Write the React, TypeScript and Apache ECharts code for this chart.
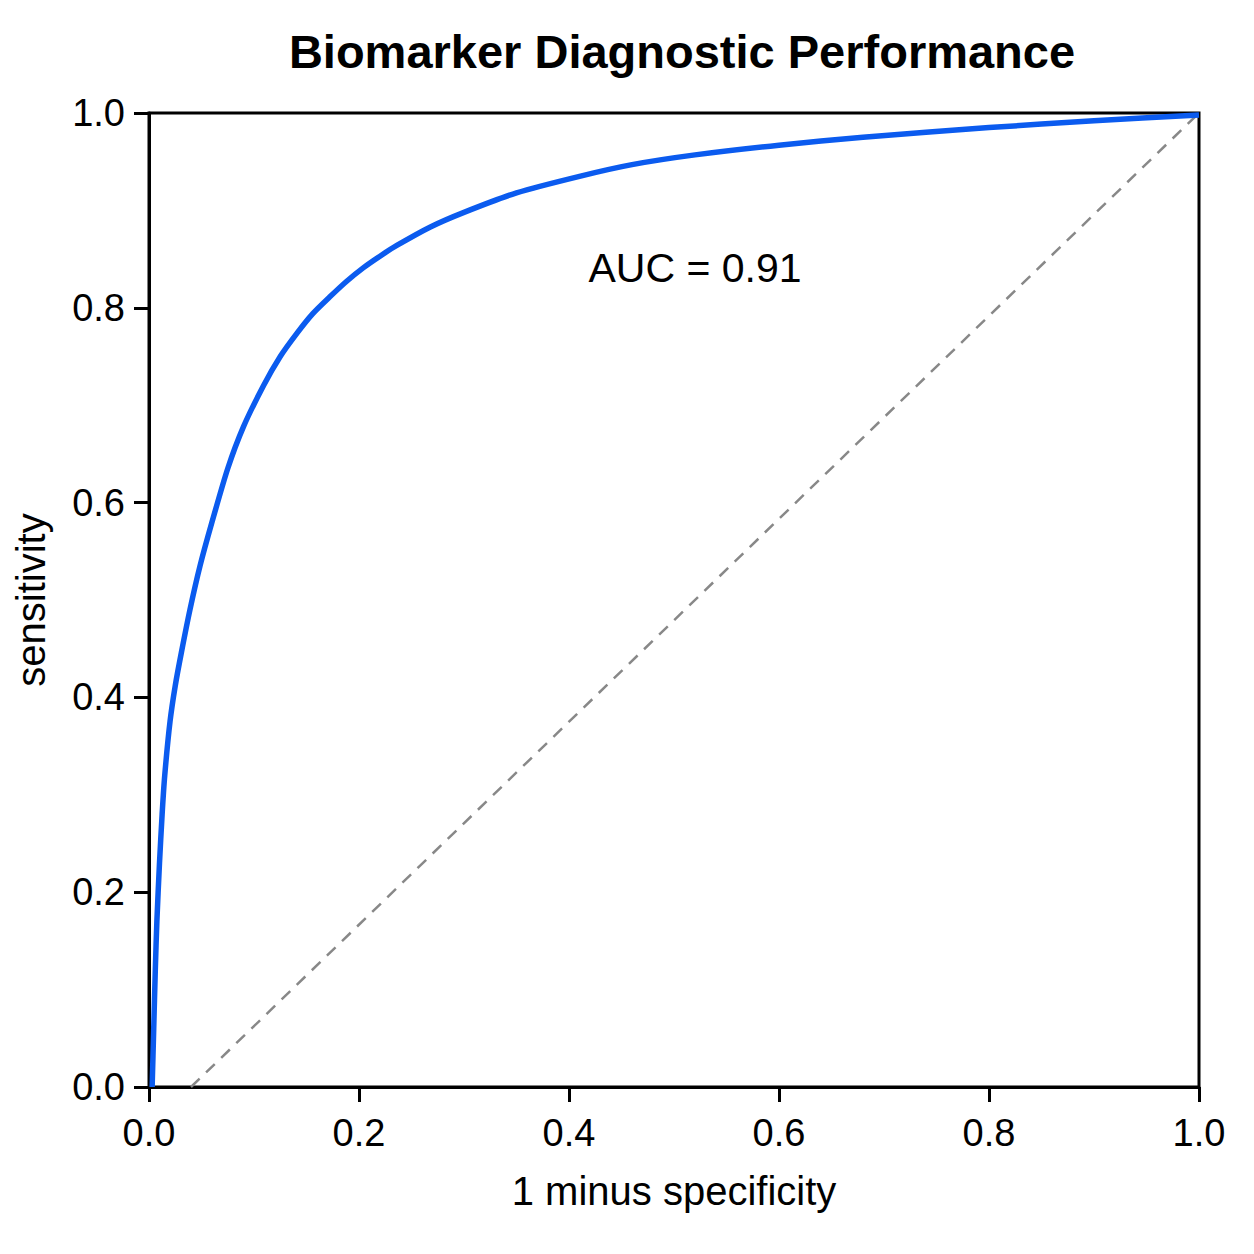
import { useEffect, useRef } from 'react'
import * as echarts from 'echarts'

// ROC curve (1 - specificity, sensitivity)
const fprValues = [
  0.003, 0.0045, 0.006, 0.0075, 0.01, 0.0125, 0.015, 0.02, 0.025, 0.031, 0.039, 0.0486,
  0.06, 0.075, 0.09, 0.109, 0.125, 0.141, 0.156, 0.172, 0.188, 0.204, 0.22, 0.236,
  0.268, 0.3, 0.35, 0.41, 0.46, 0.52, 0.6, 0.68, 0.8, 0.9, 1.0
]
const tprValues = [
  0, 0.06, 0.12, 0.17, 0.23, 0.28, 0.32, 0.375, 0.412, 0.447, 0.49, 0.535,
  0.58, 0.635, 0.678, 0.72, 0.75, 0.774, 0.794, 0.811, 0.827, 0.841, 0.853, 0.864,
  0.883, 0.898, 0.918, 0.935, 0.947, 0.957, 0.967, 0.975, 0.985, 0.992, 0.998
]
// reference (chance) line, dashed
const chanceX = [0.04, 1.0]
const chanceY = [0, 1.0]
const aucLabel = 'AUC = 0.91'
const aucAt = [0.52, 0.841]

const FONT = '"Liberation Sans", Arial, Helvetica, sans-serif'

export default function App() {
  const chartRef = useRef<HTMLDivElement>(null)

  useEffect(() => {
    if (!chartRef.current) return
    const chart = echarts.init(chartRef.current, undefined, { renderer: 'svg' })

    const axisCommon = {
      type: 'value' as const,
      min: 0,
      max: 1,
      interval: 0.2,
      axisLine: { show: true, lineStyle: { color: '#000', width: 3 } },
      axisTick: { show: true, inside: false, length: 15, lineStyle: { color: '#000', width: 3 } },
      splitLine: { show: false },
      axisLabel: {
        color: '#000',
        fontFamily: FONT,
        fontSize: 38,
        formatter: (v: number) => v.toFixed(1)
      },
      nameLocation: 'middle' as const,
      nameTextStyle: { color: '#000', fontFamily: FONT, fontSize: 40 }
    }

    chart.setOption({
      animation: false,
      backgroundColor: '#fff',
      title: {
        text: 'Biomarker Diagnostic Performance',
        left: 677,
        textAlign: 'center',
        top: 23,
        textStyle: { color: '#000', fontFamily: FONT, fontSize: 47, fontWeight: 'bold' }
      },
      grid: {
        left: 149,
        right: 55,
        top: 113,
        bottom: 167,
        show: true,
        borderColor: '#000',
        borderWidth: 3,
        backgroundColor: 'transparent'
      },
      xAxis: {
        ...axisCommon,
        name: '1 minus specificity',
        nameGap: 84,
        axisLabel: { ...axisCommon.axisLabel, margin: 27 }
      },
      yAxis: {
        ...axisCommon,
        name: 'sensitivity',
        nameGap: 98,
        axisLabel: { ...axisCommon.axisLabel, margin: 24 }
      },
      series: [
        {
          type: 'line',
          data: chanceX.map((x, i) => [x, chanceY[i]]),
          showSymbol: false,
          lineStyle: { color: '#888', width: 2.5, type: [12, 9] },
          z: 1
        },
        {
          type: 'line',
          data: fprValues.map((x, i) => [x, tprValues[i]]),
          showSymbol: false,
          smooth: 0.25,
          lineStyle: { color: '#0b5bef', width: 5.5 },
          z: 3
        }
      ]
    })

    // AUC annotation placed through the axis scales
    const [px, py] = chart.convertToPixel({ gridIndex: 0 }, aucAt) as number[]
    chart.setOption({
      graphic: [
        {
          type: 'text',
          x: px,
          y: py,
          z: 10,
          style: {
            text: aucLabel,
            fill: '#000',
            font: `41px ${FONT}`,
            textAlign: 'center',
            textVerticalAlign: 'middle'
          }
        }
      ]
    })

    return () => {
      chart.dispose()
    }
  }, [])

  return (
    <div
      ref={chartRef}
      style={{ position: 'fixed', left: 0, top: 0, width: '1254px', height: '1254px', background: '#fff' }}
    />
  )
}
